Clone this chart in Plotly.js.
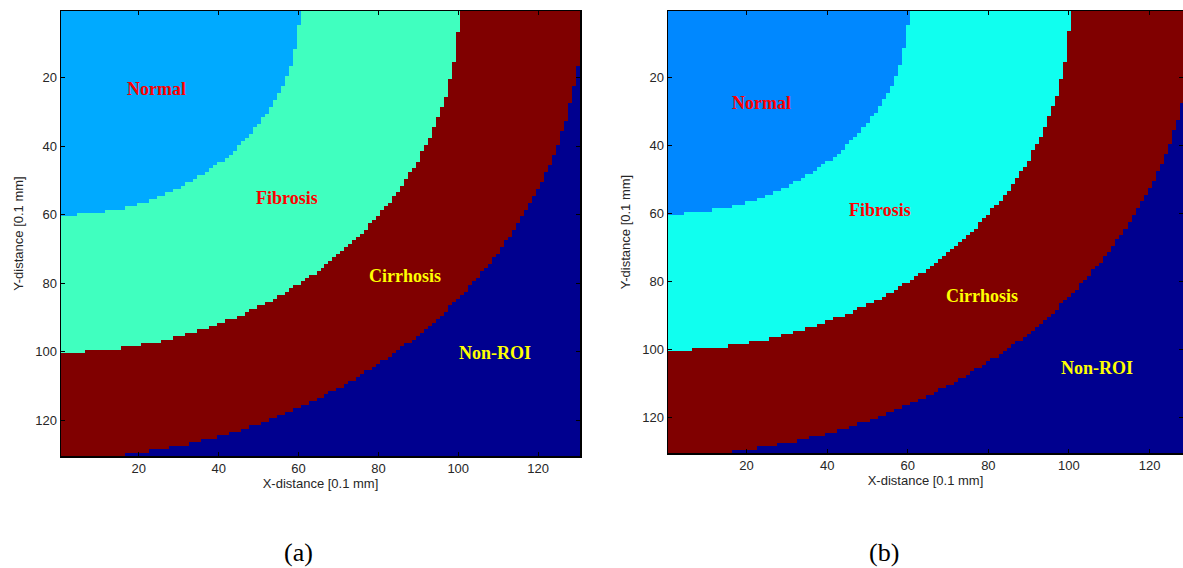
<!DOCTYPE html>
<html>
<head>
<meta charset="utf-8">
<script src="https://cdn.plot.ly/plotly-3.0.1.min.js"></script>
<style>html,body{margin:0;padding:0;background:#fff;}#chart{width:1183px;height:568px;}</style>
</head>
<body>
<div id="chart"></div>
<script>
// ---- data ----
const regionNames = ['Normal', 'Fibrosis', 'Cirrhosis', 'Non-ROI'];
// outer radius (in 0.1 mm grid units, measured from the top-left corner) of each region
const regionOuterRadiusA = [60.2, 100.2, 131];
const regionOuterRadiusB = [60.2, 100.2, 131];
const gridSize = 130;
const tickValues = [20, 40, 60, 80, 100, 120];
const tickLabels = ['20', '40', '60', '80', '100', '120'];
const colorsA = ['#00AAFF', '#40FFBF', '#800000', '#00008F'];
const colorsB = ['#0088FF', '#10FFEF', '#800000', '#00008F'];
// label anchor positions [x, y] in grid units
const labelPosA = [[24.5, 23.4], [57, 55.2], [86.7, 77.9], [109.3, 100.4]];
const labelPosB = [[23.6, 27.5], [53.1, 59.0], [78.3, 84.3], [106.9, 105.6]];
const labelColors = ['#FF0000', '#FF0000', '#FFFF00', '#FFFF00'];
const captions = ['(a)', '(b)'];

// ---- build region maps ----
const xs = [], ys = [];
for (let i = 1; i <= gridSize; i++) { xs.push(i); ys.push(i); }
function regionMap(radii) {
  const z = [];
  for (const y of ys) {
    const row = [];
    for (const x of xs) {
      const r = Math.hypot(x, y);
      let k = radii.findIndex(R => r < R);
      if (k < 0) k = radii.length;
      row.push(k);
    }
    z.push(row);
  }
  return z;
}
function discreteScale(cols) {
  const n = cols.length, s = [];
  cols.forEach((c, i) => {
    s.push([i / n, c]);
    s.push([(i + 1) / n, c]);
  });
  return s;
}

const traces = [
  {type: 'heatmap', x: xs, y: ys, z: regionMap(regionOuterRadiusA), zmin: -0.5, zmax: 3.5,
   colorscale: discreteScale(colorsA), showscale: false, xaxis: 'x', yaxis: 'y', hoverinfo: 'skip'},
  {type: 'heatmap', x: xs, y: ys, z: regionMap(regionOuterRadiusB), zmin: -0.5, zmax: 3.5,
   colorscale: discreteScale(colorsB), showscale: false, xaxis: 'x2', yaxis: 'y2', hoverinfo: 'skip'}
];

const tickFont = {family: 'Liberation Sans, Arial, sans-serif', size: 13, color: '#262626'};
const titleFont = {family: 'Liberation Sans, Arial, sans-serif', size: 13, color: '#262626'};
function xAxis(domain, range, anchor) {
  return {domain, range, anchor, tickvals: tickValues, ticktext: tickLabels, ticks: 'inside', ticklen: 4,
    tickcolor: '#000', showline: true, linecolor: '#000', linewidth: 1.5, mirror: 'all', showgrid: false,
    zeroline: false, tickfont: tickFont, automargin: false,
    title: {text: 'X-distance [0.1 mm]', font: titleFont, standoff: 4}};
}
function yAxis(domain, anchor) {
  return {domain, range: [130.5, 0.5], anchor, tickvals: tickValues, ticktext: tickLabels, ticks: 'inside', ticklen: 4,
    tickcolor: '#000', showline: true, linecolor: '#000', linewidth: 1.5, mirror: 'all', showgrid: false,
    zeroline: false, tickfont: tickFont, automargin: false,
    title: {text: 'Y-distance [0.1 mm]', font: titleFont, standoff: 8}};
}

const annotations = [];
function addLabels(pos, xref, yref) {
  regionNames.forEach((name, i) => {
    annotations.push({text: '<b>' + name + '</b>', x: pos[i][0], y: pos[i][1], xref, yref, showarrow: false,
      xanchor: 'center', yanchor: 'middle',
      font: {family: 'Liberation Serif, Times New Roman, serif', size: 18, color: labelColors[i]}});
  });
}
addLabels(labelPosA, 'x', 'y');
addLabels(labelPosB, 'x2', 'y2');

const W = 1183, H = 568, ml = 61, mr = 0, mt = 11, mb = 112;
const pw = W - ml - mr, ph = H - mt - mb;
const captionPx = [[298.5, 552], [884, 552]];
captions.forEach((c, i) => {
  annotations.push({text: c, x: (captionPx[i][0] - ml) / pw, y: (H - mb - captionPx[i][1]) / ph,
    xref: 'paper', yref: 'paper', showarrow: false, xanchor: 'center', yanchor: 'middle',
    font: {family: 'Liberation Serif, Times New Roman, serif', size: 26, color: '#000'}});
});

const layout = {
  width: W, height: H,
  margin: {l: ml, r: mr, t: mt, b: mb},
  paper_bgcolor: '#fff', plot_bgcolor: '#fff',
  showlegend: false,
  xaxis: xAxis([0, (580 - ml) / pw], [0.5, 130.5], 'y'),
  yaxis: yAxis([0, 1], 'x'),
  xaxis2: xAxis([(668 - ml) / pw, 1], [0.5, 128.3], 'y2'),
  yaxis2: yAxis([(456 - 453) / ph, 1], 'x2'),
  annotations
};

Plotly.newPlot('chart', traces, layout, {staticPlot: true, displayModeBar: false});
</script>
</body>
</html>
